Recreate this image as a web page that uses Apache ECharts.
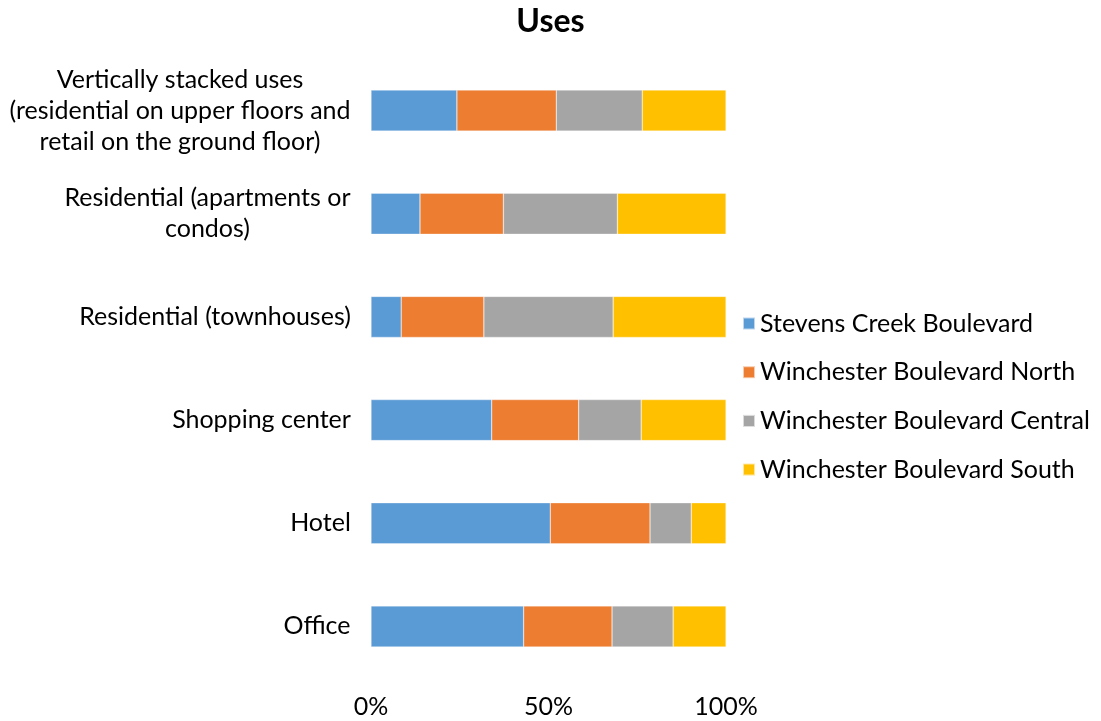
<!DOCTYPE html>
<html>
<head>
<meta charset="utf-8">
<style>
  html, body { margin: 0; padding: 0; background: #fff; }
  #chart { width: 1101px; height: 721px; }
</style>
<script src="https://cdn.jsdelivr.net/npm/echarts@6/dist/echarts.min.js"></script>
</head>
<body>
<div id="chart"></div>
<script>
// Survey categories, listed top to bottom
const categories = [
  'Vertically stacked uses\n(residential on upper floors and\nretail on the ground floor)',
  'Residential (apartments or\ncondos)',
  'Residential (townhouses)',
  'Shopping center',
  'Hotel',
  'Office'
];

// Share of responses per corridor (percent)
const stevensCreek        = [24.2, 13.8,  8.5, 34.0, 50.5, 43.0];
const winchesterNorth     = [28.0, 23.5, 23.3, 24.5, 28.1, 24.9];
const winchesterCentral   = [24.2, 32.1, 36.4, 17.6, 11.6, 17.2];
const winchesterSouth     = [23.6, 30.6, 31.8, 23.9,  9.8, 14.9];

const seriesNames = [
  'Stevens Creek Boulevard',
  'Winchester Boulevard North',
  'Winchester Boulevard Central',
  'Winchester Boulevard South'
];
const seriesData = [stevensCreek, winchesterNorth, winchesterCentral, winchesterSouth];
const colors = ['#5B9BD5', '#ED7D31', '#A5A5A5', '#FFC000'];

const FONT = 'Lato, "Open Sans", sans-serif';
const FS = 25;

// Multi-line labels are centered line by line inside a right-aligned block
const ctx = document.createElement('canvas').getContext('2d');
ctx.font = FS + 'px ' + FONT;
const rich = {};
categories.forEach((c, i) => {
  const w = Math.max(...c.split('\n').map(l => ctx.measureText(l).width));
  rich['l' + i] = { width: Math.ceil(w), align: 'center', fontSize: FS, fontFamily: FONT, color: '#000', lineHeight: 31 };
});

const chart = echarts.init(document.getElementById('chart'));
chart.setOption({
  animation: false,
  backgroundColor: '#fff',
  title: {
    text: 'Uses',
    left: 'center',
    top: 1,
    textStyle: { fontFamily: FONT, fontSize: 32, fontWeight: 'bold', color: '#000' }
  },
  legend: {
    orient: 'vertical',
    left: 737,
    top: 306,
    itemWidth: 12,
    itemHeight: 12,
    itemGap: 23.7,
    icon: 'rect',
    textStyle: { fontFamily: FONT, fontSize: FS, color: '#000', lineHeight: 24 },
    data: seriesNames
  },
  grid: { left: 371, right: 375, top: 59, bottom: 43, containLabel: false },
  xAxis: {
    type: 'value',
    min: 0,
    max: 100,
    interval: 50,
    axisLine: { show: false },
    axisTick: { show: false },
    splitLine: { show: false },
    axisLabel: {
      formatter: '{value}%',
      margin: 16,
      fontFamily: FONT,
      fontSize: FS,
      color: '#000'
    }
  },
  yAxis: {
    type: 'category',
    inverse: true,
    data: categories,
    axisLine: { show: false },
    axisTick: { show: false },
    axisLabel: {
      margin: 20,
      rich: rich,
      formatter: (value, idx) => value.split('\n').map(l => '{l' + idx + '|' + l + '}').join('\n')
    }
  },
  series: seriesNames.map((name, i) => ({
    name: name,
    type: 'bar',
    stack: 'total',
    barWidth: 41,
    data: seriesData[i],
    itemStyle: { color: colors[i], borderColor: 'rgba(255,255,255,0.6)', borderWidth: 0.5 }
  }))
});
</script>
</body>
</html>
